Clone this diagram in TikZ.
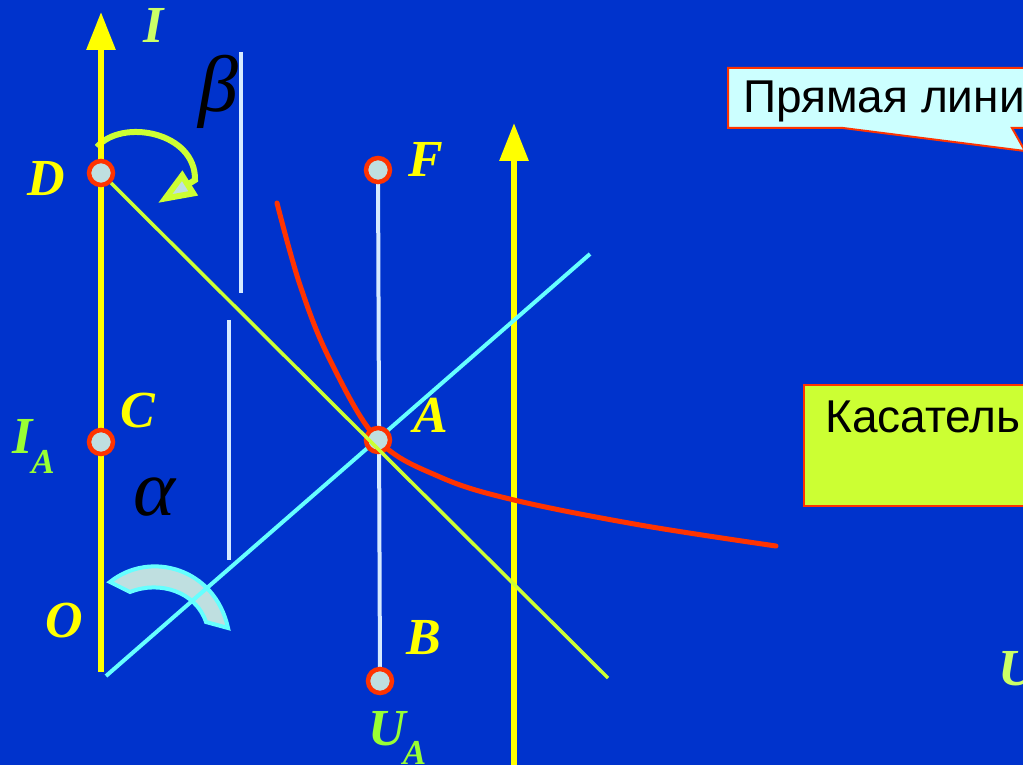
\documentclass[tikz,border=0pt]{standalone}
\usepackage{fontspec}
\setmainfont{Liberation Serif}
\newfontfamily\calloutfont{Liberation Sans}
\usetikzlibrary{arrows.meta}
\definecolor{slideblue}{HTML}{0033CC}
\definecolor{axisyellow}{HTML}{FFFF00}
\definecolor{limegreen}{HTML}{CCFF33}
\definecolor{palelime}{HTML}{CCFF66}
\definecolor{brightgreen}{HTML}{99FF33}
\definecolor{loadcyan}{HTML}{66FFFF}
\definecolor{paleline}{HTML}{D6EBFF}
\definecolor{curvered}{HTML}{FF3300}
\definecolor{dotfill}{HTML}{BFDFE0}
\definecolor{calloutcyan}{HTML}{CCFFFF}
\tikzset{
  ptdot/.style={circle, draw=curvered, fill=dotfill, line width=4.5pt,
    minimum size=24pt, inner sep=0pt},
  ptlabel/.style={text=axisyellow, inner sep=0pt, anchor=base west,
    font=\fontsize{52}{52}\selectfont\bfseries\itshape},
  greeklabel/.style={text=black, inner sep=0pt, anchor=base west,
    font=\fontsize{80}{80}\selectfont\itshape},
  axisline/.style={draw=axisyellow, line width=6pt,
    -{Triangle[length=38pt,width=28pt]}},
  calloutbox/.style={draw=curvered, line width=2pt},
  callouttext/.style={text=black, inner sep=0pt, anchor=base west,
    font=\fontsize{46}{46}\selectfont\calloutfont}
}

\begin{document}
\begin{tikzpicture}[x=1pt, y=-1pt]
  \useasboundingbox (0,0) rectangle (1023,765);
  \clip (0,0) rectangle (1023,765);
  \fill[slideblue] (0,0) rectangle (1023,765);

  % points on the characteristic
  \coordinate (pD) at (101,173);
  \coordinate (pC) at (101,442);
  \coordinate (pF) at (378,170);
  \coordinate (pA) at (378,440);
  \coordinate (pB) at (380,681);
  \coordinate (O) at (101,672);
  \coordinate (Itip) at (101,12);
  \coordinate (Ubot) at (514,770);
  \coordinate (Utip) at (514,123);
  \coordinate (tanend) at (608,678);
  \coordinate (loadstart) at (106,676);
  \coordinate (loadend) at (590,254);

  % callouts
  \draw[calloutbox, fill=calloutcyan] (728,68) -- (1040,68) -- (1040,128)
    -- (1012,128) -- (1025,151) -- (843,128) -- (728,128) -- cycle;
  \node[callouttext] (linetext) at (743,113) {Прямая лини};
  \draw[calloutbox, fill=limegreen] (804,385) rectangle (1040,506);
  \node[callouttext] (tangtext) at (825,432) {Касатель};

  % angle marks
  \draw[line width=4pt, draw=loadcyan, fill=dotfill]
    (110,582) .. controls (150,550) and (215,568) .. (228,628)
    -- (206,622) .. controls (196,592) and (160,580) .. (130,592) -- cycle;
  \draw[limegreen, line width=6pt,
    -{Triangle[length=38pt,width=28pt,fill=dotfill]}]
    (97,147) .. controls (122,118) and (196,132) .. (195,180) -- (158,203);

  % auxiliary lines
  \draw[paleline, line width=4pt] (241,52) -- (241,293);
  \draw[paleline, line width=4pt] (229,320) -- (229,560);
  \draw[paleline, line width=4pt] (pF) -- (pB);

  % axes
  \draw[axisline] (O) -- (Itip);
  \draw[axisline] (Ubot) -- (Utip);

  % load line
  \draw[loadcyan, line width=4pt] (loadstart) -- (loadend);

  % curve
  \draw[curvered, line width=5pt, line cap=round] plot[smooth, tension=0.6]
    coordinates {(277,203) (300,285) (330,360) (378,440) (440,477)
      (514,500) (640,525) (776,546)};

  % dots
  \node[ptdot] (D) at (pD) {};
  \node[ptdot] (C) at (pC) {};
  \node[ptdot] (F) at (pF) {};
  \node[ptdot] (A) at (pA) {};
  \node[ptdot] (B) at (pB) {};

  % tangent
  \draw[limegreen, line width=3.5pt] (D) -- (tanend);

  % labels
  \node[ptlabel, text=palelime] (Ilab) at (143,43) {I};
  \node[ptlabel] (Dlab) at (27,195) {D};
  \node[ptlabel] (Flab) at (408,177) {F};
  \node[ptlabel] (Alab) at (413,432) {A};
  \node[ptlabel] (Clab) at (120,427) {C};
  \node[ptlabel] (Olab) at (45,637) {O};
  \node[ptlabel] (Blab) at (406,654) {B};
  \node[ptlabel, text=brightgreen] (IAlab) at (12,453)
    {I\kern-1pt\raisebox{-20pt}{\fontsize{35}{35}\selectfont A}};
  \node[ptlabel, text=brightgreen] (UAlab) at (368,745)
    {U\kern-3pt\raisebox{-19pt}{\fontsize{35}{35}\selectfont A}};
  \node[ptlabel, text=palelime] (Ulab) at (998,685) {U};
  \node[greeklabel] (alphalab) at (133,515) {α};
  \node[greeklabel] (betalab) at (198,112) {β};
\end{tikzpicture}
\end{document}
